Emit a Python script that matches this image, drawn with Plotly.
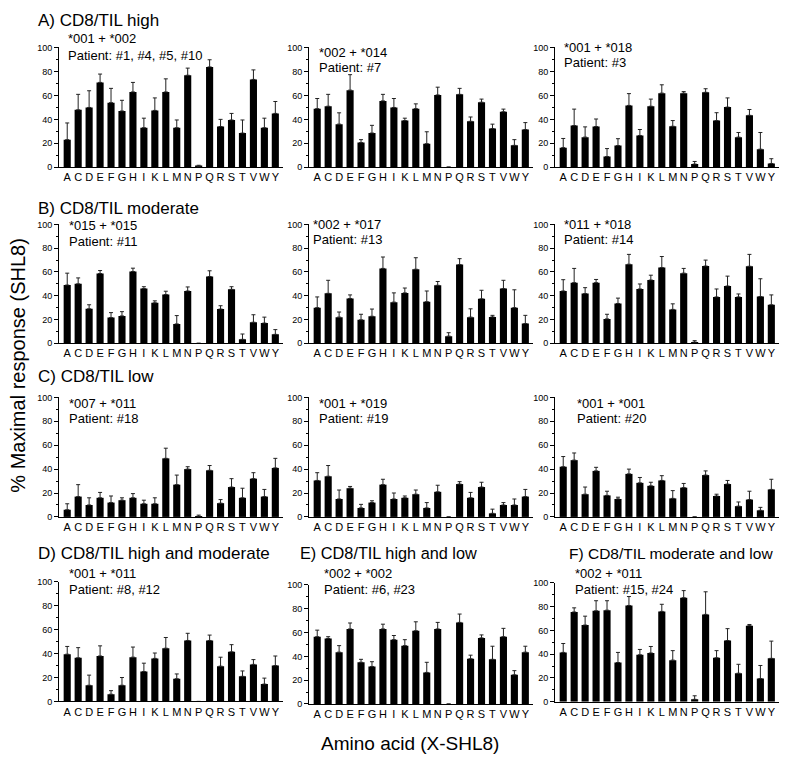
import plotly.graph_objects as go

amino_acids = ["A", "C", "D", "E", "F", "G", "H", "I", "K", "L",
               "M", "N", "P", "Q", "R", "S", "T", "V", "W", "Y"]
y_ticks = [0, 20, 40, 60, 80, 100]

# Row A: CD8/TIL high
a1_mean = [23, 48, 50, 71, 54, 47, 63, 33, 47.5, 63, 33, 77, 0.5, 84, 34, 39.5, 28.5, 73.5, 33, 45]
a1_err = [14, 13, 14, 7, 12, 9, 8, 8, 10.5, 11, 6.5, 6, 1, 6, 6, 5.5, 11, 8, 8, 10]
a2_mean = [49, 51, 36, 64.5, 20.5, 28.5, 55.5, 50, 39, 49, 19.6, 60.5, 0, 61, 38.4, 54.4, 32.3, 46.4, 18.2, 31.5]
a2_err = [8.5, 10, 9.5, 13, 2.5, 6.5, 5.5, 7.5, 2, 4, 10, 6.5, 0, 5, 3.6, 2.6, 3.7, 2.2, 4.8, 5.8]
a3_mean = [16.3, 34.8, 25.1, 34, 8.8, 18, 51.7, 26.5, 51, 62, 34.2, 62, 2.5, 62.7, 39, 50.3, 25.1, 43.4, 15, 3]
a3_err = [7.7, 13.8, 8.6, 6.3, 6.7, 5.8, 9.9, 5, 6, 7, 4.8, 1.3, 2.2, 3, 6.6, 7.7, 3.9, 4.9, 14, 4]

# Row B: CD8/TIL moderate
b1_mean = [49, 50, 29, 58.7, 21.6, 23, 60.4, 46, 34, 41, 16.3, 44, 0, 56.2, 28.8, 45.4, 3.3, 17.7, 17, 7.5]
b1_err = [10, 5, 3.4, 2.5, 4.2, 3.6, 2.8, 1.6, 1.7, 2.8, 7, 3.4, 0, 4.8, 2.8, 2.2, 4.5, 6.3, 5, 4]
b2_mean = [30, 42, 22, 37.7, 19.7, 22.7, 63, 34.6, 42.4, 62.3, 35, 48.8, 6, 66.2, 22, 37.4, 22.2, 46, 30, 16.6]
b2_err = [9, 11, 4.3, 3, 4.7, 6.1, 9.6, 7.8, 4.1, 9.7, 9, 3.2, 2.9, 5, 7, 7.2, 1.3, 7, 15, 6.9]
b3_mean = [44, 51, 41.8, 51, 20.5, 33.5, 66.5, 45.7, 53.2, 63.7, 28.5, 59, 1, 65, 39, 48.2, 39, 64.8, 39.3, 32.4]
b3_err = [9.5, 12, 5, 2.7, 3.9, 4.5, 8.3, 4.2, 4.1, 9.3, 4.7, 4, 1.2, 5, 6.7, 8.3, 2.5, 10, 15, 8.3]

# Row C: CD8/TIL low
c1_mean = [6, 17, 10, 16, 12, 14, 16, 11, 11, 49, 27, 40, 0.5, 39, 11.5, 25, 16, 32, 17, 41]
c1_err = [5, 10, 6, 4.5, 5.5, 2, 3.5, 3, 5, 8.5, 8, 2, 1, 4, 3, 7, 8, 5, 6, 8]
c2_mean = [30.5, 34, 15, 24, 7.5, 12, 27, 15, 16, 19, 7.5, 21, 0, 27.5, 16, 25, 3, 10, 10, 17]
c2_err = [6.5, 9, 7.5, 1.5, 3, 1.5, 4.5, 5, 1.5, 3.5, 4.5, 5.5, 0, 2, 4.5, 4, 3.5, 2, 5, 6]
c3_mean = [42, 47.5, 19, 38.5, 18, 15, 36, 28.5, 26, 30.5, 15.5, 24.5, 0, 35, 17.5, 27.5, 9, 14.5, 5.5, 23]
c3_err = [8.5, 6, 6, 3, 3.5, 1.5, 4, 4.5, 3, 4, 6.5, 3.5, 0, 3.5, 1.5, 3, 3.5, 7, 2.5, 8.5]

# Row D/E/F: mixed groups
d1_mean = [39.5, 36.5, 13.5, 38, 6, 13.5, 37, 25, 36, 44.5, 19, 51, 0, 51, 29.5, 41.5, 21, 31, 14.5, 30]
d1_err = [6.5, 8.5, 8.5, 8.5, 3, 6.5, 8.5, 7, 4.5, 9, 4, 6, 0, 4.5, 7.5, 6, 4.5, 4, 5, 8]
e2_mean = [56.5, 55, 43.5, 63, 35, 31.5, 63, 54, 49, 61.5, 26.5, 63, 0, 68.5, 38, 55.5, 37.5, 56.5, 24.5, 43.5]
e2_err = [5.5, 1.5, 5.5, 5, 2.5, 4, 4, 3.5, 5, 7.5, 8.5, 5.5, 0, 7, 3, 2.5, 11, 7, 3.5, 5]
f3_mean = [41.5, 75.5, 64.5, 76.5, 77, 33, 81, 39.5, 41, 76, 35, 87.5, 2, 73.5, 37, 51.5, 24, 64, 19.5, 36.5]
f3_err = [7.5, 3.5, 7.5, 8.5, 8, 8.5, 7.5, 4.5, 5.5, 6, 8, 6, 3, 19, 6, 10, 7.5, 1, 11, 14.5]

hla_labels = ["*001 + *002", "*002 + *014", "*001 + *018",
              "*015 + *015", "*002 + *017", "*011 + *018",
              "*007 + *011", "*001 + *019", "*001 + *001",
              "*001 + *011", "*002 + *002", "*002 + *011"]
patient_labels = ["Patient: #1, #4, #5, #10", "Patient: #7", "Patient: #3",
                  "Patient: #11", "Patient: #13", "Patient: #14",
                  "Patient: #18", "Patient: #19", "Patient: #20",
                  "Patient: #8, #12", "Patient: #6, #23", "Patient: #15, #24"]
group_titles = ["A) CD8/TIL high", "B) CD8/TIL moderate", "C) CD8/TIL low",
                "D) CD8/TIL high and moderate", "E) CD8/TIL high and low",
                "F) CD8/TIL moderate and low"]

means = [a1_mean, a2_mean, a3_mean, b1_mean, b2_mean, b3_mean,
         c1_mean, c2_mean, c3_mean, d1_mean, e2_mean, f3_mean]
errs = [a1_err, a2_err, a3_err, b1_err, b2_err, b3_err,
        c1_err, c2_err, c3_err, d1_err, e2_err, f3_err]

W, H = 800, 768
FONT = "Liberation Sans, Arial, sans-serif"

def px_x(p):
    return p / W

def px_y(p):
    return 1 - p / H

col_px = [(59, 283), (309, 533), (555, 779)]
row_px = [[(165, 44.0)] * 3, [(343.3, 222.7)] * 3, [(519, 397.7)] * 3,
          [(705.7, 584.4), (708.3, 587.4), (706, 585.4)]]
text_px = [[(66, 35, 52), (317, 49, 64), (562, 44, 59)],
           [(67, 224, 240), (311, 223, 238), (562, 223, 238)],
           [(67, 404, 419), (317, 404, 419), (575, 404, 419)],
           [(67, 576, 592), (322, 576, 592), (573, 576, 592)]]
title_px = [(36, 17, 17), (36, 207, 17), (36, 377, 17), (36, 556, 17), (298, 556, 16.3), (567, 556, 15.5)]

fig = go.Figure()
layout = dict(width=W, height=H, margin=dict(l=0, r=0, t=0, b=0),
              plot_bgcolor="white", paper_bgcolor="white", showlegend=False,
              font=dict(family=FONT, color="black"), bargap=0.35)
annotations = []

for i in range(12):
    r, c = divmod(i, 3)
    k = i + 1
    xa = "x" if k == 1 else f"x{k}"
    ya = "y" if k == 1 else f"y{k}"
    fig.add_trace(go.Bar(
        x=list(range(len(amino_acids))), y=means[i],
        xaxis=xa, yaxis=ya, width=0.65,
        marker=dict(color="black", line=dict(width=0)),
        error_y=dict(type="data", array=errs[i], arrayminus=[0] * len(errs[i]),
                     symmetric=False, color="#222222", thickness=1, width=2),
    ))
    bot, top = row_px[r][c]
    x0, x1 = col_px[c]
    layout["xaxis" + ("" if k == 1 else str(k))] = dict(
        domain=[px_x(x0), px_x(x1)], anchor=ya, range=[-0.75, 19.7],
        tickmode="array", tickvals=list(range(len(amino_acids))), ticktext=amino_acids,
        ticks="", tickangle=0, showline=True, linecolor="black", linewidth=1,
        showgrid=False, zeroline=False, tickfont=dict(size=11, family=FONT),
        fixedrange=True)
    layout["yaxis" + ("" if k == 1 else str(k))] = dict(
        domain=[px_y(bot), px_y(top)], anchor=xa, range=[0, 100.3],
        tickmode="array", tickvals=y_ticks, ticks="outside", ticklen=4,
        tickwidth=1, tickcolor="black",
        minor=dict(dtick=10, ticks="outside", ticklen=2, tickcolor="black"),
        showline=True, linecolor="black", linewidth=1,
        showgrid=False, zeroline=False, tickfont=dict(size=9, family=FONT),
        fixedrange=True)
    tx, ty1, ty2 = text_px[r][c]
    annotations.append(dict(text=hla_labels[i], x=px_x(tx), y=px_y(ty1), xref="paper", yref="paper",
                            xanchor="left", yanchor="middle", showarrow=False,
                            font=dict(size=13, family=FONT)))
    annotations.append(dict(text=patient_labels[i], x=px_x(tx), y=px_y(ty2), xref="paper", yref="paper",
                            xanchor="left", yanchor="middle", showarrow=False,
                            font=dict(size=13, family=FONT)))

for t, (tx, ty, fs) in zip(group_titles, title_px):
    annotations.append(dict(text=t, x=px_x(tx), y=px_y(ty), xref="paper", yref="paper",
                            xanchor="left", yanchor="middle", showarrow=False,
                            font=dict(size=fs, family=FONT)))

annotations.append(dict(text="% Maximal response (SHL8)", x=px_x(18), y=px_y(366),
                        xref="paper", yref="paper", textangle=-90, showarrow=False,
                        xanchor="center", yanchor="middle", font=dict(size=20, family=FONT)))
annotations.append(dict(text="Amino acid (X-SHL8)", x=px_x(410), y=px_y(748),
                        xref="paper", yref="paper", showarrow=False,
                        xanchor="center", yanchor="middle", font=dict(size=19, family=FONT)))

layout["annotations"] = annotations
fig.update_layout(**layout)
fig.write_html("out.html", config={"displayModeBar": False},
               post_script="document.body.style.margin='0px';")
